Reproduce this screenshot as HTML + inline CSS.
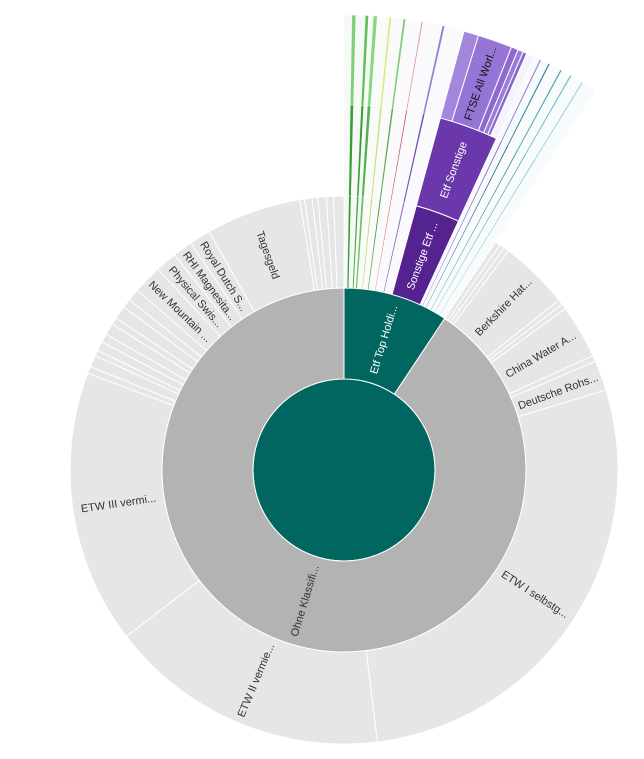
<!DOCTYPE html>
<html><head><meta charset="utf-8"><style>
html,body{margin:0;padding:0;background:#fff;width:644px;height:759px;overflow:hidden}
svg text{font-family:"Liberation Sans",sans-serif;font-size:11px}
</style></head><body>
<svg id="chart" width="644" height="759" viewBox="0 0 644 759"></svg>
<script>
// ring 2 (level 1)
const l1Labels = ["Etf Top Holdi...", "Ohne Klassifi..."];
const l1Values = [33.6, 326.4];
const l1Colors = ["#00665f", "#b3b3b3"];
// Etf Top Holdings children (level 2, continuing through levels 3 and 4)
const etfLabels = ["","","","","","","","","","","","","","","","Sonstige Etf ...","","","","","","","","","","",""];
const etfValues = [1.0,0.5,1.2,0.4,0.6,0.5,1.5,0.3,1.5,0.3,2.0,0.2,2.5,0.3,2.5, 9.4, 0.8,0.2,1.0,0.2,1.5,0.2,1.2,0.2,1.5,0.2,1.9];
const etfColorsL2 = ["#f6faf6","#3d9c3a","#f6faf6","#4aa546","#f7fbf6","#6cc068","#f8fbf6","#b8d96a","#f9faf9","#3f9a3f","#fafafb","#c0506a","#fafafc","#8060c0","#fafafc",
 "#55238f", "#f7fafc","#7a58c0","#f7fafc","#2a5f8a","#f7fbfc","#3a8ca0","#f7fbfc","#5aaab8","#f7fbfc","#8cc8d0","#f7fbfc"];
const etfColorsL3 = ["#f6faf6","#3d9c3a","#f6faf6","#3a9a36","#f7fbf6","#55b050","#f8fbf6","#c4e07a","#f9faf9","#5aa850","#fafafb","#c8486a","#fafafc","#7050b8","#fafafc",
 "#6a38aa", "#f7fafc","#7a58c0","#f7fafc","#1f5f7f","#f7fbfc","#3a8ca0","#f7fbfc","#5aaab8","#f7fbfc","#8cc8d0","#f7fbfc"];
const etfColorsL4 = ["#f6faf6","#7fcf79","#f6faf6","#5fbf58","#f7fbf6","#8ad685","#f8fbf6","#d6ec8c","#f9faf9","#7fcf79","#fafafb","#e0a0b8","#fafafc","#9a7ad8","#fafafc",
 null, "#f7fafc","#9a80d8","#f7fafc","#3a7fa0","#f7fbfc","#4aa0b0","#f7fbfc","#70bcc8","#f7fbfc","#a0d4da","#f7fbfc"];
const l3SonstLabel = "Etf Sonstige";
// ring 5 split of Sonstige Etf
const ftseLabels = ["","FTSE All Worl...","","","",""];
const ftseValues = [1.9,4.4,0.9,0.7,0.5,1.0];
const ftseColors = ["#a487dd","#9574d5","#8e6ad0","#9a7fd8","#8a66cc","#f4f2fa"];
// Ohne Klassifizierung children
const ohneLabels = ["","","","Berkshire Hat...","","","China Water A...","","Deutsche Rohs...","ETW I selbstg...","ETW II vermie...","ETW III vermi...",
 "","","","","","","","","","","New Mountain ...","Physical Swis...","RHI Magnesita...","Royal Dutch S...","Tagesgeld","","","","","",""];
const ohneValues = [1.1,1.1,1.1,14.8,1.1,1.1,11.4,1.3,6.4,100,59.6,58.1,
 1.5,2.5,1.2,2.0,1.8,2.5,1.5,2.8,1.9,2.6,6.2,4.6,4.2,4.5,20.2,1.0,1.6,1.2,1.8,1.5,2.2];

const cx=344, cy=470, R=[0,91,182,274,365,455];
const svg=document.getElementById('chart');
const NS="http://www.w3.org/2000/svg";
function pt(a,r){const t=(a-90)*Math.PI/180;return [cx+r*Math.cos(t),cy+r*Math.sin(t)];}
function arc(a0,a1,r0,r1){
  const large=(a1-a0)>180?1:0;
  const p0=pt(a0,r1),p1=pt(a1,r1),p2=pt(a1,r0),p3=pt(a0,r0);
  return `M${p0[0]},${p0[1]}A${r1},${r1} 0 ${large} 1 ${p1[0]},${p1[1]}L${p2[0]},${p2[1]}A${r0},${r0} 0 ${large} 0 ${p3[0]},${p3[1]}Z`;
}
function seg(a0,a1,r0,r1,color,label,name,tc,sw){
  const p=document.createElementNS(NS,'path');
  p.setAttribute('d',arc(a0,a1,r0,r1));
  p.setAttribute('fill',color);
  p.setAttribute('stroke','#fff');p.setAttribute('stroke-width',sw);
  
  
  svg.appendChild(p);
  if(label){
    const m=(a0+a1)/2, rm=(r0+r1)/2;
    const t=document.createElementNS(NS,'text');
    let tr=`rotate(${m-90},${cx},${cy}) translate(${cx+rm},${cy})`;
    if(m>=180) tr+=' rotate(180)';
    t.setAttribute('transform',tr);
    t.setAttribute('text-anchor','middle');t.setAttribute('dy','0.35em');
    t.setAttribute('fill',tc);
    t.textContent=label;
    
    
    svg.appendChild(t);
  }
}
// center
const c=document.createElementNS(NS,'circle');
c.setAttribute('cx',cx);c.setAttribute('cy',cy);c.setAttribute('r',R[1]);
c.setAttribute('fill','#00665f');c.setAttribute('stroke','#fff');


svg.appendChild(c);
// level 1
let a=0;
l1Values.forEach((v,i)=>{seg(a,a+v,R[1],R[2],l1Colors[i],l1Labels[i],'level1',i===0?'#fff':'#333',1);a+=v;});
// etf children
a=0;
etfValues.forEach((v,i)=>{
  const a0=a,a1=a+v;a=a1;
  const sw=etfLabels[i]?1:0.3;
  seg(a0,a1,R[2],R[3],etfColorsL2[i],etfLabels[i],'etf-holding',"#fff",sw);
  seg(a0,a1,R[3],R[4],etfColorsL3[i],etfLabels[i]?l3SonstLabel:"",'etf-level3',"#fff",sw);
  if(etfColorsL4[i]) seg(a0,a1,R[4],R[5],etfColorsL4[i],"",'etf-level4',"#111",sw);
  else {
    let b=a0;
    ftseValues.forEach((fv,j)=>{seg(b,b+fv,R[4],R[5],ftseColors[j],ftseLabels[j],'ftse',"#111",1);b+=fv;});
  }
});
// ohne children
ohneValues.forEach((v,i)=>{seg(a,a+v,R[2],R[3],"#e6e6e6",ohneLabels[i],'ohne-holding',"#333",1);a+=v;});
</script>
</body></html>
